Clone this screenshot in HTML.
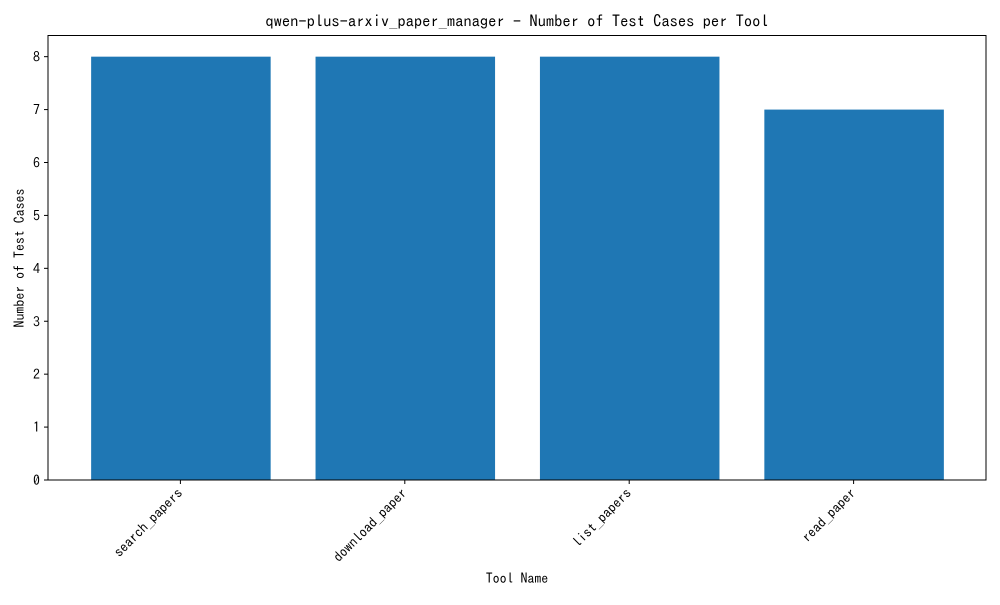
<!DOCTYPE html>
<html><head><meta charset="utf-8"><style>
body{margin:0;background:#fff}
svg text{font-family:"IPAGothic","WenQuanYi Zen Hei Mono",monospace;fill:#000}
</style></head><body>
<svg width="1000" height="600">
<rect width="1000" height="600" fill="#fff"/>
<text x="517" y="27" font-size="16.5" text-anchor="middle">qwen-plus-arxiv_paper_manager - Number of Test Cases per Tool</text>
<g id="plot"></g>
<rect x="48" y="35.5" width="938" height="444.5" fill="none" stroke="#000" stroke-width="1"/>
<text x="517" y="583" font-size="13.9" text-anchor="middle">Tool Name</text>
<text transform="translate(24,258) rotate(-90)" font-size="13.9" text-anchor="middle">Number of Test Cases</text>
</svg>
<script>
const categories=["search_papers","download_paper","list_papers","read_paper"];
const values=[8,8,8,7];
const yTicks=[0,1,2,3,4,5,6,7,8];
const L=48,R=986,T=35.5,B=480;
const xMin=-0.59,xMax=3.59,yMax=8.4;
const xs=v=>L+(v-xMin)/(xMax-xMin)*(R-L);
const ys=v=>B-v/yMax*(B-T);
const g=document.getElementById('plot');
const NS='http://www.w3.org/2000/svg';
function mk(t,a){const e=document.createElementNS(NS,t);for(const k in a)e.setAttribute(k,a[k]);g.appendChild(e);return e;}
categories.forEach((c,i)=>{
 const b=mk('rect',{x:xs(i-0.4)+0.5,y:ys(values[i]),width:xs(i+0.4)-xs(i-0.4),height:B-ys(values[i]),fill:'#1f77b4'});
 
 
 const tk=mk('line',{x1:xs(i),x2:xs(i),y1:B,y2:B+4,stroke:'#000'});
 
 
 const t=mk('text',{transform:`translate(${xs(i)+3},${B+14}) rotate(-45)`,'font-size':13.9,'text-anchor':'end'});
 t.textContent=c;
 
 
});
yTicks.forEach(v=>{
 const tk=mk('line',{x1:L-4,x2:L,y1:ys(v),y2:ys(v),stroke:'#000'});
 
 
 const t=mk('text',{x:L-8,y:ys(v)+5,'font-size':13.9,'text-anchor':'end'});
 t.textContent=v;
 
 
});
</script>
</body></html>
